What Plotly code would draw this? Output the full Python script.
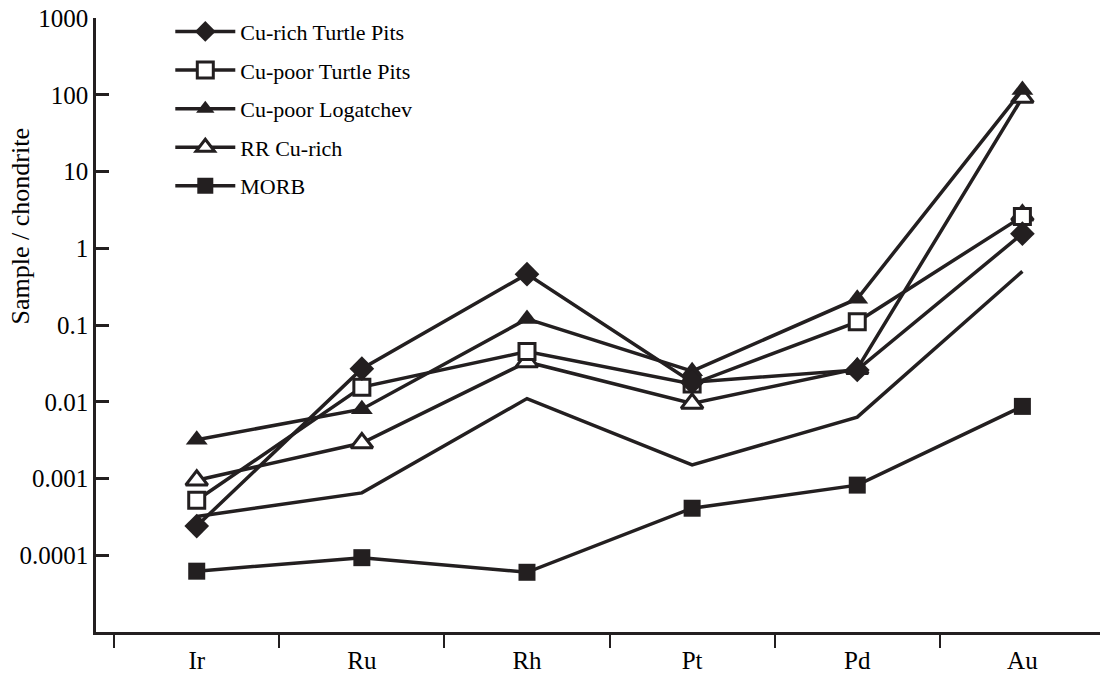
import plotly.graph_objects as go

elements = ["Ir", "Ru", "Rh", "Pt", "Pd", "Au"]

cu_rich_turtle_pits = [0.00024, 0.027, 0.46, 0.018, 0.026, 1.55]
cu_poor_turtle_pits = [0.00052, 0.0155, 0.045, 0.017, 0.11, 2.6]
cu_poor_logatchev = [0.0032, 0.008, 0.12, 0.025, 0.22, 115]
rr_cu_rich = [0.00095, 0.0029, 0.033, 0.0095, 0.027, 92]
morb = [0.000062, 0.000093, 0.00006, 0.00041, 0.00082, 0.0087]
unmarked_series = [0.00032, 0.00065, 0.011, 0.0015, 0.0063, 0.5]
extra_rr_point_cat = ["Au"]
extra_rr_point_val = [2.7]

y_tickvals = [0.0001, 0.001, 0.01, 0.1, 1, 10, 100, 1000]
y_ticktext = ["0.0001", "0.001", "0.01", "0.1", "1", "10", "100", "1000"]

INK = "#231f20"
FONT = "Liberation Serif, Times New Roman, Times, serif"
LW = 3.5

fig = go.Figure()

fig.add_trace(go.Scatter(
    x=elements, y=unmarked_series, mode="lines",
    line=dict(color=INK, width=LW), showlegend=False, hoverinfo="skip"))

fig.add_trace(go.Scatter(
    x=elements, y=morb, mode="lines+markers", name="MORB",
    line=dict(color=INK, width=LW),
    marker=dict(symbol="square", size=17, color=INK, line=dict(color=INK, width=0)),
    legendrank=5))

fig.add_trace(go.Scatter(
    x=extra_rr_point_cat, y=extra_rr_point_val, mode="markers",
    marker=dict(symbol="triangle-up", size=19, color="white", line=dict(color=INK, width=3)),
    showlegend=False))

fig.add_trace(go.Scatter(
    x=elements, y=rr_cu_rich, mode="lines+markers", name="RR Cu-rich",
    line=dict(color=INK, width=LW),
    marker=dict(symbol="triangle-up", size=19, color="white", line=dict(color=INK, width=3)),
    legendrank=4))

fig.add_trace(go.Scatter(
    x=elements, y=cu_poor_turtle_pits, mode="lines+markers", name="Cu-poor Turtle Pits",
    line=dict(color=INK, width=LW),
    marker=dict(symbol="square", size=16, color="white", line=dict(color=INK, width=3)),
    legendrank=2))

fig.add_trace(go.Scatter(
    x=elements, y=cu_poor_logatchev, mode="lines+markers", name="Cu-poor Logatchev",
    line=dict(color=INK, width=LW),
    marker=dict(symbol="triangle-up", size=19, color=INK, line=dict(color=INK, width=0)),
    legendrank=3))

fig.add_trace(go.Scatter(
    x=elements, y=cu_rich_turtle_pits, mode="lines+markers", name="Cu-rich Turtle Pits",
    line=dict(color=INK, width=LW),
    marker=dict(symbol="diamond", size=19, color=INK, line=dict(color=INK, width=0)),
    legendrank=1))

for i, tr in enumerate(fig.data):
    tr.legendgroup = f"g{i}"

fig.update_layout(
    width=1100, height=673,
    margin=dict(l=96, r=0, t=18, b=41),
    paper_bgcolor="white", plot_bgcolor="white",
    font=dict(family=FONT, color="black", size=20),
    legend=dict(
        x=0.074, y=1.012, xanchor="left", yanchor="top",
        font=dict(family=FONT, size=22, color="black"),
        bgcolor="rgba(0,0,0,0)", tracegroupgap=7, traceorder="grouped",
        itemwidth=60,
    ),
    xaxis=dict(
        type="category", categoryorder="array", categoryarray=elements,
        range=[-0.61, 5.47],
        showline=True, linecolor=INK, linewidth=2.5,
        ticks="outside", tickson="boundaries", ticklen=13, tickwidth=2, tickcolor=INK,
        showgrid=False, zeroline=False, ticklabelstandoff=4,
        tickfont=dict(family=FONT, size=25, color="black"),
    ),
    yaxis=dict(
        type="log", range=[-5, 3],
        showline=True, linecolor=INK, linewidth=2.5,
        ticks="inside", ticklen=13, tickwidth=2.5, tickcolor=INK,
        tickvals=y_tickvals, ticktext=y_ticktext,
        showgrid=False, zeroline=False,
        tickfont=dict(family=FONT, size=25, color="black"),
    ),
    annotations=[dict(
        text="Sample / chondrite", textangle=-90,
        xref="paper", yref="paper",
        x=-0.075, y=0.66, xanchor="center", yanchor="middle",
        showarrow=False, font=dict(family=FONT, size=26, color="black"),
    )],
)

fig.write_html("out.html")
